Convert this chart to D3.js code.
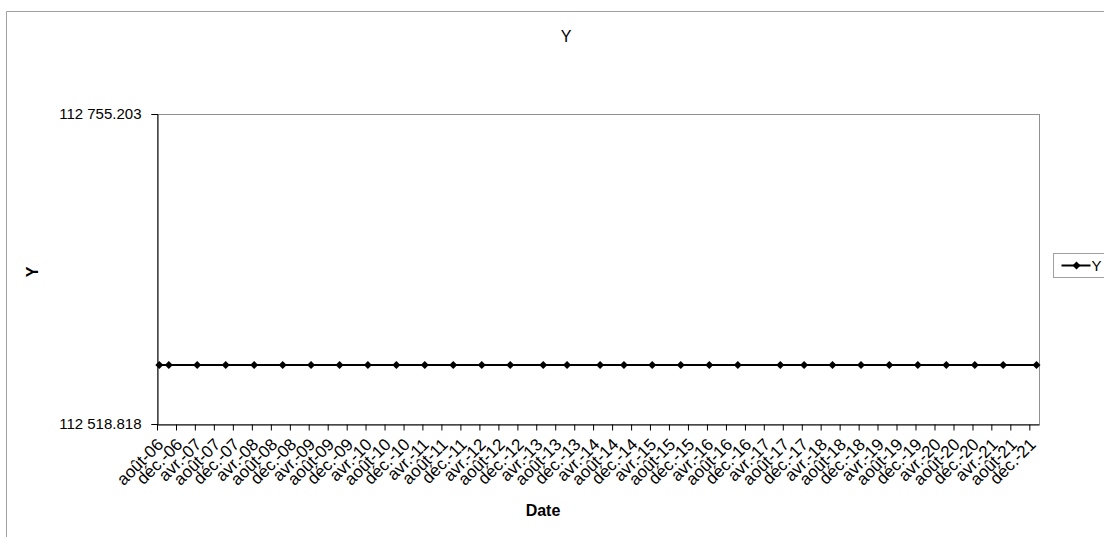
<!DOCTYPE html>
<meta charset="utf-8">
<style>
  body { margin: 0; background: #fff; }
  text { font-family: "Liberation Sans", Arial, sans-serif; fill: #000; }
</style>
<body>
<script src="https://d3js.org/d3.v7.min.js"></script>
<script>
var dates = ["2006-08", "2006-10", "2007-04", "2007-10", "2008-04", "2008-10",
  "2009-04", "2009-10", "2010-04", "2010-10", "2011-04", "2011-10",
  "2012-04", "2012-10", "2013-05", "2013-10", "2014-05", "2014-10",
  "2015-04", "2015-10", "2016-04", "2016-10", "2017-07", "2017-12",
  "2018-06", "2018-12", "2019-06", "2019-12", "2020-06", "2020-12",
  "2021-06", "2022-01"];
var values = dates.map(function() { return 112563.8; });
var yTicks = [112518.818, 112755.203];
var monthNames = ["janv.", "févr.", "mars", "avr.", "mai", "juin",
  "juil.", "août", "sept.", "oct.", "nov.", "déc."];

var W = 1104, H = 537;
var plot = {left: 157, right: 1039, top: 114, bottom: 424};

var parseMonth = d3.timeParse("%Y-%m");
var data = dates.map(function(d, i) {
  var dt = parseMonth(d);
  return {date: d3.timeDay.offset(dt, 15), value: values[i]};
});

var x = d3.scaleTime()
    .domain([new Date(2006, 7, 1), new Date(2022, 1, 1)])
    .range([plot.left, plot.right]);
var y = d3.scaleLinear()
    .domain([yTicks[0], yTicks[1]])
    .range([plot.bottom, plot.top]);

var xTicks = d3.timeMonth.range(new Date(2006, 7, 1), new Date(2022, 0, 1), 4);
var fmtX = function(d) {
  return monthNames[d.getMonth()] + "-" + d3.timeFormat("%y")(d);
};
var fmtY = function(d) { return d3.format(",.3f")(d).replace(/,/g, " "); };

var svg = d3.select("body").append("svg")
    .attr("width", W)
    .attr("height", H);

// chart area border (only top and left visible)
svg.append("path")
    .attr("d", "M6.5," + H + "V11.5H" + W)
    .attr("fill", "none")
    .attr("stroke", "#a0a0a0");

// plot frame
svg.append("rect")
    .attr("x", plot.left + 0.5)
    .attr("y", plot.top + 0.5)
    .attr("width", plot.right - plot.left)
    .attr("height", plot.bottom - plot.top)
    .attr("fill", "none")
    .attr("stroke", "#909090");

// y axis
var yAxis = d3.axisLeft(y).tickValues(yTicks).tickFormat(fmtY).tickSize(6).tickPadding(10);
var gy = svg.append("g")
    .attr("transform", "translate(" + (plot.left + 0.5) + ",0)")
    .call(yAxis);
gy.select(".domain").attr("stroke", "#000");
gy.selectAll("text").style("font-size", "15px").attr("font-family", null);

// x axis
var xAxis = d3.axisBottom(x).tickValues(xTicks).tickFormat(fmtX).tickSize(6).tickSizeOuter(0);
var gx = svg.append("g")
    .attr("transform", "translate(0," + (plot.bottom + 0.5) + ")")
    .call(xAxis);
gx.select(".domain").attr("stroke", "#000");
gx.selectAll("text")
    .style("font-size", "17px")
    .attr("font-family", null)
    .attr("text-anchor", "end")
    .attr("dy", null)
    .attr("y", 0)
    .attr("transform", "translate(7,21) rotate(-45)");

// series
var line = d3.line()
    .x(function(d) { return x(d.date); })
    .y(function(d) { return y(d.value); });
svg.append("path")
    .datum(data)
    .attr("d", line)
    .attr("fill", "none")
    .attr("stroke", "#000")
    .attr("stroke-width", 2);

var marker = d3.symbol().type(d3.symbolSquare).size(32);
svg.selectAll(".pt")
    .data(data)
  .enter().append("path")
    .attr("class", "pt")
    .attr("d", marker)
    .attr("transform", function(d) {
      return "translate(" + x(d.date) + "," + y(d.value) + ") rotate(45)";
    })
    .attr("fill", "#000");

// titles
svg.append("text")
    .attr("x", 566).attr("y", 42)
    .attr("text-anchor", "middle")
    .style("font-size", "16px")
    .text("Y");
svg.append("text")
    .attr("transform", "translate(38,272) rotate(-90)")
    .attr("text-anchor", "middle")
    .style("font-size", "16px")
    .style("font-weight", "bold")
    .text("Y");
svg.append("text")
    .attr("x", 543).attr("y", 516)
    .attr("text-anchor", "middle")
    .style("font-size", "16px")
    .style("font-weight", "bold")
    .text("Date");

// legend
var lg = svg.append("g").attr("transform", "translate(1053.5,253.5)");
lg.append("rect")
    .attr("width", 60).attr("height", 24)
    .attr("fill", "#fff")
    .attr("stroke", "#a0a0a0");
lg.append("line")
    .attr("x1", 8).attr("x2", 37).attr("y1", 12).attr("y2", 12)
    .attr("stroke", "#000").attr("stroke-width", 2);
lg.append("path")
    .attr("d", marker)
    .attr("transform", "translate(23,12) rotate(45)")
    .attr("fill", "#000");
lg.append("text")
    .attr("x", 38).attr("y", 17.5)
    .style("font-size", "15px")
    .text("Y");
</script>
</body>
